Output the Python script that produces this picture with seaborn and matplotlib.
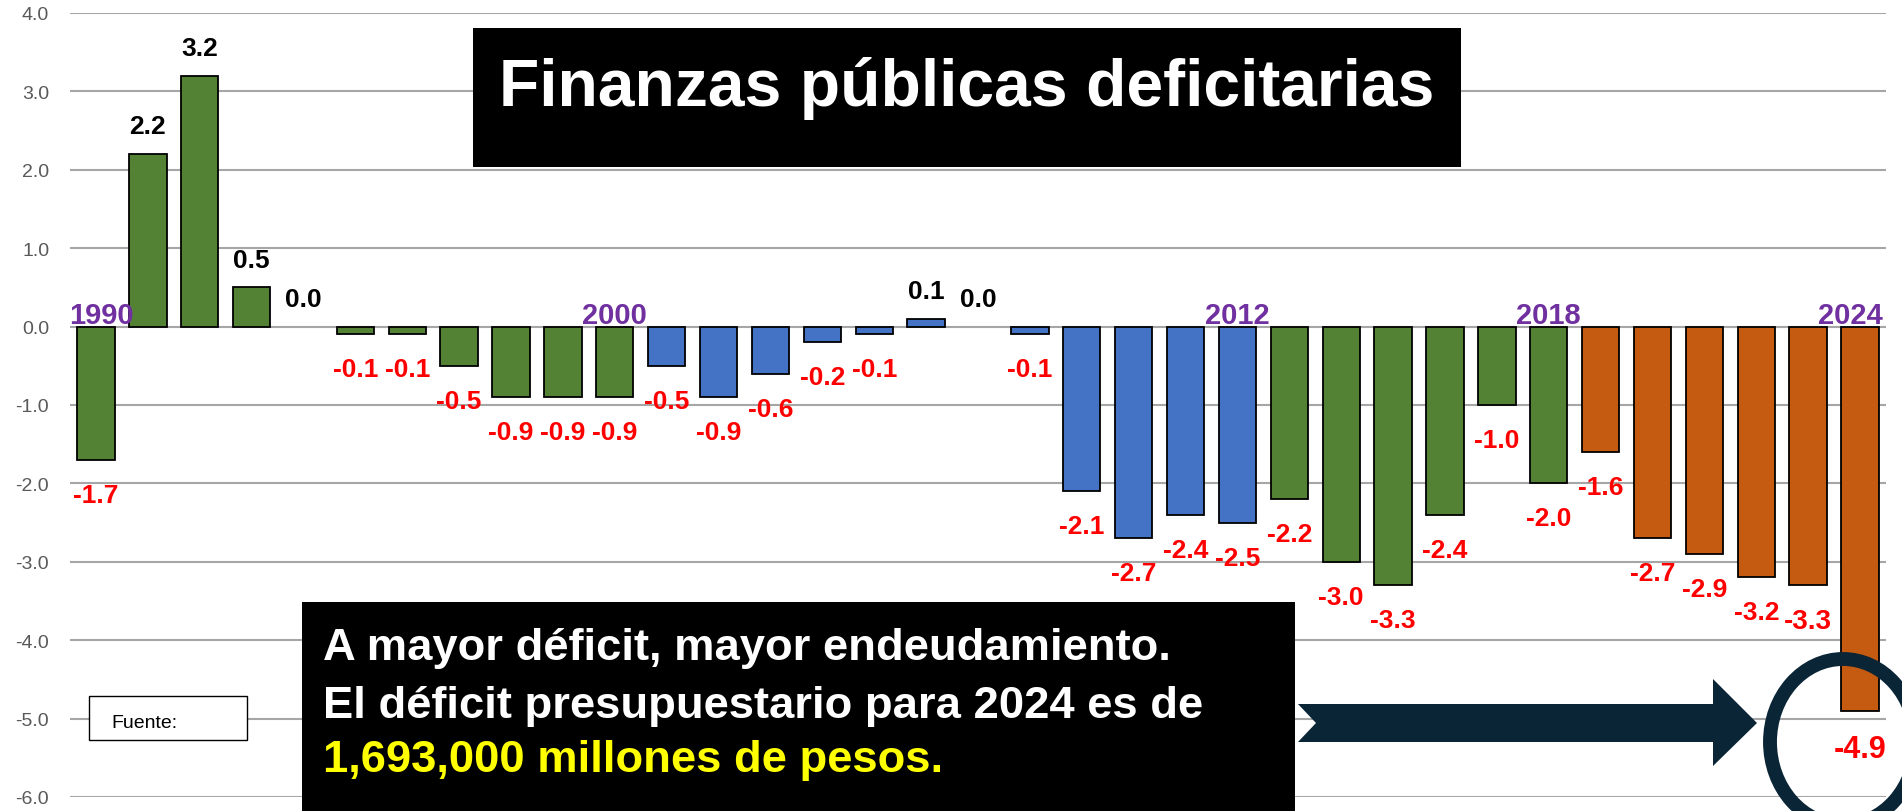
import numpy as np
import pandas as pd
import matplotlib
matplotlib.use("Agg")
import matplotlib.pyplot as plt
import seaborn as sns
from matplotlib.patches import Rectangle, Polygon, Ellipse

# ---------------- data ----------------
years = list(range(1990, 2025))
deficit = [-1.7, 2.2, 3.2, 0.5, 0.0, -0.1, -0.1, -0.5, -0.9, -0.9, -0.9,
           -0.5, -0.9, -0.6, -0.2, -0.1, 0.1, 0.0, -0.1, -2.1, -2.7, -2.4, -2.5,
           -2.2, -3.0, -3.3, -2.4, -1.0, -2.0,
           -1.6, -2.7, -2.9, -3.2, -3.3, -4.9]
grupo = ["verde"] * 11 + ["azul"] * 12 + ["verde"] * 6 + ["naranja"] * 6
year_marks = [1990, 2000, 2012, 2018, 2024]
y_ticks = [-6, -5, -4, -3, -2, -1, 0, 1, 2, 3, 4]

title_text = "Finanzas públicas deficitarias"
box_lines = ["A mayor déficit, mayor endeudamiento.",
             "El déficit presupuestario para 2024 es de",
             "1,693,000 millones de pesos."]
source_text = "Fuente:"

palette = {"verde": "#548235", "azul": "#4472C4", "naranja": "#C55A11"}

# ---------------- style ----------------
sns.set_style("white")
plt.rcParams["font.family"] = ["Liberation Sans", "DejaVu Sans"]

W, H = 1902, 812
fig = plt.figure(figsize=(W / 100, H / 100), dpi=100)
fig.patch.set_facecolor("white")

ax_left, ax_right, ax_top, ax_bottom = 70, 1886, 14, 798
ax = fig.add_axes([ax_left / W, 1 - ax_bottom / H,
                   (ax_right - ax_left) / W, (ax_bottom - ax_top) / H])

df = pd.DataFrame({"anio": [str(y) for y in years],
                   "deficit": deficit,
                   "grupo": grupo})

sns.barplot(data=df, x="anio", y="deficit", hue="grupo", order=df["anio"],
            palette=palette, dodge=False, width=0.72, saturation=1,
            edgecolor="black", linewidth=1.3, legend=False, ax=ax)

for p in ax.patches:
    if abs(p.get_height()) < 1e-9:
        p.set_linewidth(0)

ax.set_xlim(-0.5, len(years) - 0.5)
ax.set_ylim(-6, 4)
ax.set_yticks(y_ticks)
ax.set_yticklabels([f"{t:.1f}" for t in y_ticks])
ax.set_xticks([])
ax.set_xlabel("")
ax.set_ylabel("")
ax.tick_params(axis="y", length=0, pad=15, labelsize=14, labelcolor="#595959")
for s in ax.spines.values():
    s.set_visible(False)
ax.grid(axis="y", color="#A6A6A6", linewidth=1.5)
ax.set_axisbelow(True)

size_override = {2023: 20, 2024: 22}
year_shift = {1990: 3.6, 2024: -7.2}
for i, (yr, v) in enumerate(zip(years, deficit)):
    fs = size_override.get(yr, 19)
    if v >= 0:
        ax.annotate(f"{v:.1f}", (i, v), xytext=(0, 15), textcoords="offset points",
                    ha="center", va="baseline", color="black",
                    fontsize=fs, fontweight="bold")
    else:
        ax.annotate(f"{v:.1f}", (i, v), xytext=(0, -16.5), textcoords="offset points",
                    ha="center", va="top", color="#FF0000",
                    fontsize=fs, fontweight="bold")
    if yr in year_marks:
        ax.annotate(str(yr), (i, 0), xytext=(year_shift.get(yr, 0), 2.5),
                    textcoords="offset points",
                    ha="center", va="baseline", color="#7030A0",
                    fontsize=21, fontweight="bold", zorder=5)


# ---------------- decorations (figure pixel coords, top-left origin) -------------
def fx(px):
    return px / W


def fy(py):
    return 1 - py / H


def add_rect(x0, y0, x1, y1, fc, ec=None, lw=0):
    r = Rectangle((fx(x0), fy(y1)), (x1 - x0) / W, (y1 - y0) / H,
                  transform=fig.transFigure, facecolor=fc,
                  edgecolor=ec if ec else fc, linewidth=lw, zorder=2)
    fig.add_artist(r)


# title box
add_rect(473, 29, 1461, 168, "black")
fig.text(fx(967), fy(106), title_text, ha="center", va="baseline",
         color="white", fontsize=47.5, fontweight="bold", zorder=3)

# message box
add_rect(302, 603, 1295, 812, "black")
baselines = [660, 718, 772]
colors = ["white", "white", "#FFFF00"]
for line, b, c in zip(box_lines, baselines, colors):
    fig.text(fx(323), fy(b), line, ha="left", va="baseline", color=c,
             fontsize=32.7, fontweight="bold", zorder=3)

# source box
add_rect(89, 697, 247, 741, "white", ec="black", lw=1)
fig.text(fx(111), fy(728), source_text, ha="left", va="baseline",
         color="black", fontsize=14, zorder=3)

# arrow
navy = "#0A2536"
arrow_pts = [(1298, 705), (1713, 705), (1713, 680), (1757, 724),
             (1713, 767), (1713, 743), (1298, 743), (1316, 724)]
poly = Polygon([(fx(x), fy(y)) for x, y in arrow_pts], closed=True,
               transform=fig.transFigure, facecolor=navy, edgecolor=navy,
               linewidth=0, zorder=2)
fig.add_artist(poly)

# oval around 2024
rx, ry = 73, 83
circ = Ellipse((fx(1843), fy(743)), 2 * rx / W, 2 * ry / H,
               transform=fig.transFigure, facecolor="none",
               edgecolor=navy, linewidth=10, zorder=4)
fig.add_artist(circ)

fig.savefig("out.png", dpi=100, facecolor="white")
